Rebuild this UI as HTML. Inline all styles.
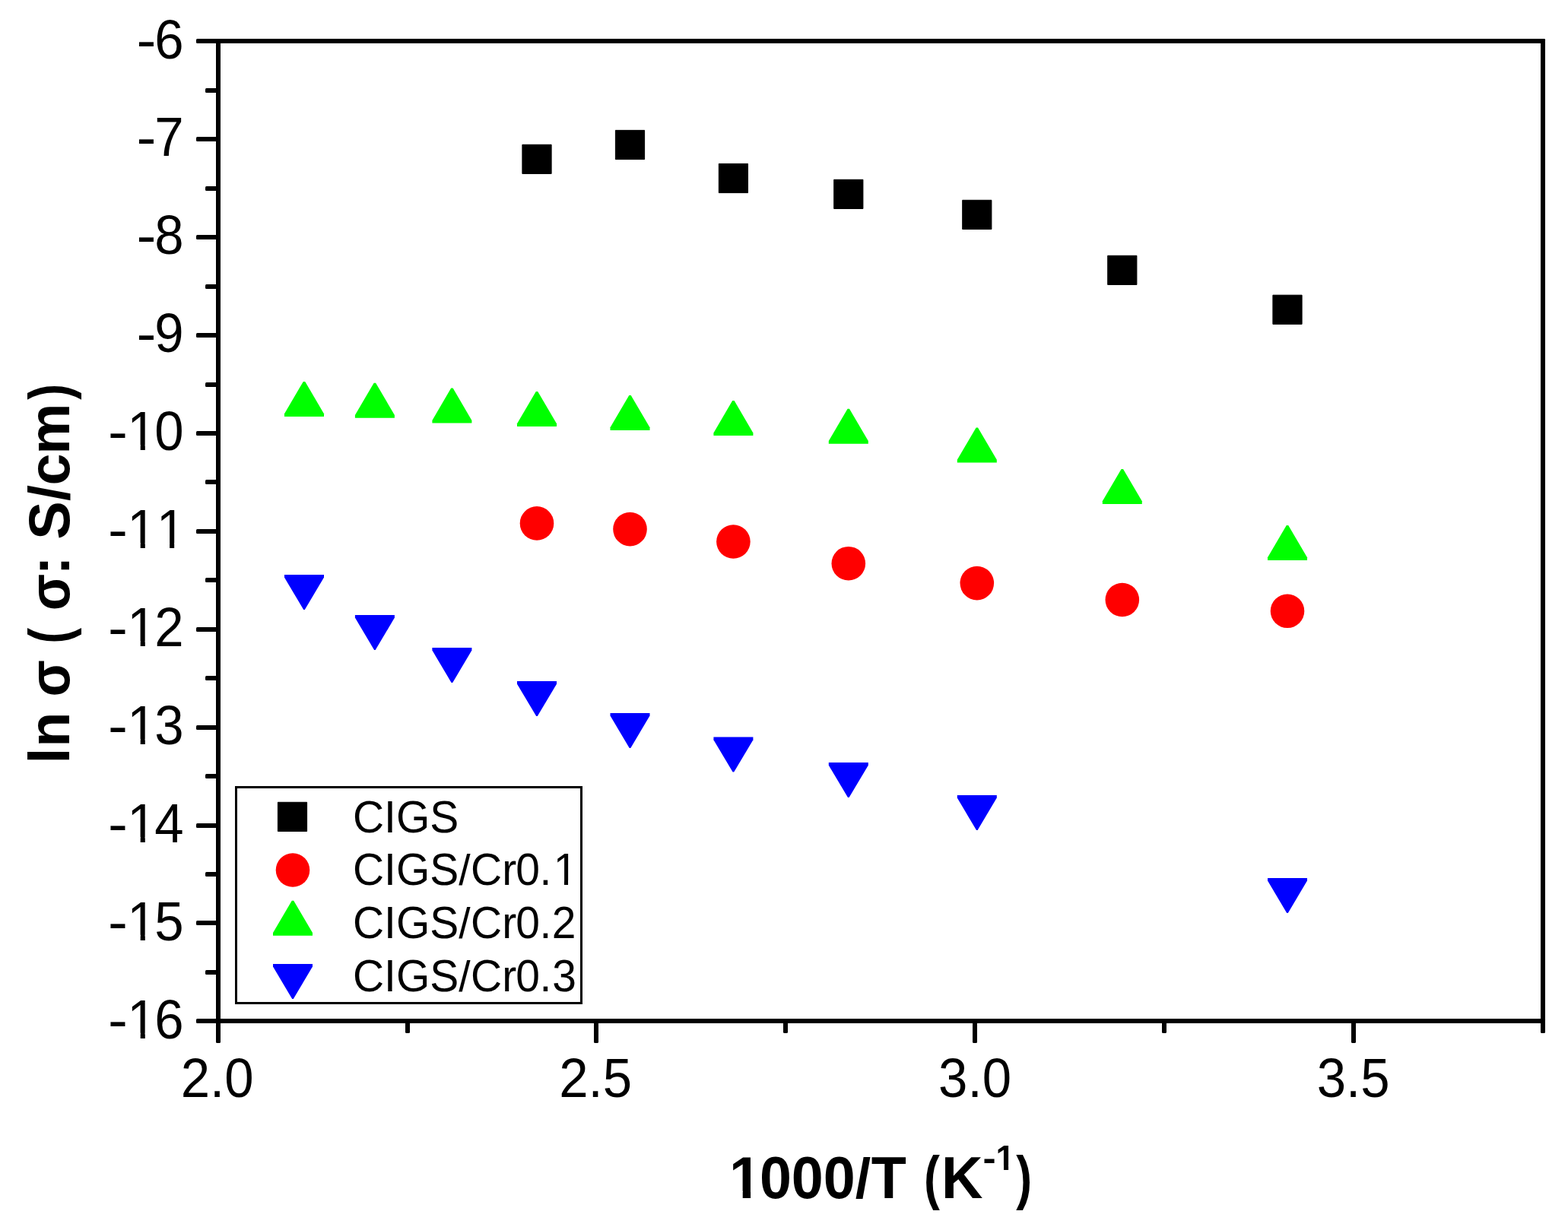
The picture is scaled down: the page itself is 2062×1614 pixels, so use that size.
<!DOCTYPE html>
<html><head><meta charset="utf-8"><title>ln σ vs 1000/T</title><style>
html,body{margin:0;padding:0;background:#fff;overflow:hidden}
svg{display:block}
text{font-family:"Liberation Sans",Arial,sans-serif;fill:#000}
.tl{font-size:69px}
.lg{font-size:57px}
.ti{font-size:75.5px;font-weight:bold}
</style></head><body>
<svg width="2062" height="1614" viewBox="0 0 2062 1614">
<defs>
<clipPath id="cy4"><path clip-rule="evenodd" d="M-3000 -3000H5000V3000H-3000Z M171.61 -6.45H184.70V3.00H171.61Z M190.80 -6.45H203.36V3.00H190.80Z"/></clipPath>
<clipPath id="cy5"><path clip-rule="evenodd" d="M-3000 -3000H5000V3000H-3000Z M171.61 -6.45H184.70V3.00H171.61Z M190.80 -6.45H203.36V3.00H190.80Z M209.98 -6.45H223.08V3.00H209.98Z M229.17 -6.45H241.73V3.00H229.17Z"/></clipPath>
<clipPath id="cy6"><path clip-rule="evenodd" d="M-3000 -3000H5000V3000H-3000Z M171.61 -6.45H184.70V3.00H171.61Z M190.80 -6.45H203.36V3.00H190.80Z"/></clipPath>
<clipPath id="cy7"><path clip-rule="evenodd" d="M-3000 -3000H5000V3000H-3000Z M171.61 -6.45H184.70V3.00H171.61Z M190.80 -6.45H203.36V3.00H190.80Z"/></clipPath>
<clipPath id="cy8"><path clip-rule="evenodd" d="M-3000 -3000H5000V3000H-3000Z M171.61 -6.45H184.70V3.00H171.61Z M190.80 -6.45H203.36V3.00H190.80Z"/></clipPath>
<clipPath id="cy9"><path clip-rule="evenodd" d="M-3000 -3000H5000V3000H-3000Z M171.61 -6.45H184.70V3.00H171.61Z M190.80 -6.45H203.36V3.00H190.80Z"/></clipPath>
<clipPath id="cy10"><path clip-rule="evenodd" d="M-3000 -3000H5000V3000H-3000Z M171.61 -6.45H184.70V3.00H171.61Z M190.80 -6.45H203.36V3.00H190.80Z"/></clipPath>
<clipPath id="cxt"><path clip-rule="evenodd" d="M-3000 -3000H5000V3000H-3000Z M962.86 -9.00H976.72V3.00H962.86Z M987.08 -9.00H999.99V3.00H987.08Z M1124.56 -58.71H1146.13V-51.94H1124.56Z"/></clipPath>
<clipPath id="cxs"><path clip-rule="evenodd" d="M-3000 -3000H5000V3000H-3000Z M1311.34 -5.87H1319.97V3.00H1311.34Z M1326.12 -5.87H1334.19V3.00H1326.12Z"/></clipPath>
<clipPath id="cl1"><path clip-rule="evenodd" d="M-3000 -3000H5000V3000H-3000Z M731.02 -5.56H742.01V3.00H731.02Z M747.05 -5.56H757.60V3.00H747.05Z M602.96 -45.30H619.40V-39.22H602.96Z"/></clipPath>
<clipPath id="cl2"><path clip-rule="evenodd" d="M-3000 -3000H5000V3000H-3000Z M602.96 -45.30H619.40V-39.22H602.96Z"/></clipPath>
<clipPath id="cl3"><path clip-rule="evenodd" d="M-3000 -3000H5000V3000H-3000Z M602.96 -45.30H619.40V-39.22H602.96Z"/></clipPath>
</defs>
<rect width="2062" height="1614" fill="#fff"/>
<g fill="#000">
<rect x="258" y="51" width="1774" height="6" rx="1.5"/>
<rect x="258" y="1340" width="1774" height="6" rx="1.5"/>
<rect x="284" y="51" width="6" height="1321" rx="1.5"/>
<rect x="2026" y="51" width="6" height="1308" rx="1.5"/>
<rect x="258" y="180" width="30" height="6" rx="1.5"/>
<rect x="258" y="309" width="30" height="6" rx="1.5"/>
<rect x="258" y="438" width="30" height="6" rx="1.5"/>
<rect x="258" y="567" width="30" height="6" rx="1.5"/>
<rect x="258" y="696" width="30" height="6" rx="1.5"/>
<rect x="258" y="825" width="30" height="6" rx="1.5"/>
<rect x="258" y="954" width="30" height="6" rx="1.5"/>
<rect x="258" y="1083" width="30" height="6" rx="1.5"/>
<rect x="258" y="1211" width="30" height="6" rx="1.5"/>
<rect x="270" y="116" width="18" height="6" rx="1.5"/>
<rect x="270" y="245" width="18" height="6" rx="1.5"/>
<rect x="270" y="374" width="18" height="6" rx="1.5"/>
<rect x="270" y="503" width="18" height="6" rx="1.5"/>
<rect x="270" y="631" width="18" height="6" rx="1.5"/>
<rect x="270" y="760" width="18" height="6" rx="1.5"/>
<rect x="270" y="889" width="18" height="6" rx="1.5"/>
<rect x="270" y="1018" width="18" height="6" rx="1.5"/>
<rect x="270" y="1147" width="18" height="6" rx="1.5"/>
<rect x="270" y="1276" width="18" height="6" rx="1.5"/>
<rect x="781" y="1342" width="6" height="30" rx="1.5"/>
<rect x="1279" y="1342" width="6" height="30" rx="1.5"/>
<rect x="1777" y="1342" width="6" height="30" rx="1.5"/>
<rect x="533" y="1342" width="6" height="17" rx="1.5"/>
<rect x="1030" y="1342" width="6" height="17" rx="1.5"/>
<rect x="1528" y="1342" width="6" height="17" rx="1.5"/>
</g>
<text class="tl" transform="translate(0 76.5) scale(1 1.045)"><tspan x="179.55" textLength="25.92" lengthAdjust="spacingAndGlyphs">-</tspan><tspan x="203.33">6</tspan></text>
<text class="tl" transform="translate(0 205.4) scale(1 1.045)"><tspan x="179.55" textLength="25.92" lengthAdjust="spacingAndGlyphs">-</tspan><tspan x="203.33">7</tspan></text>
<text class="tl" transform="translate(0 334.3) scale(1 1.045)"><tspan x="179.55" textLength="25.92" lengthAdjust="spacingAndGlyphs">-</tspan><tspan x="203.33">8</tspan></text>
<text class="tl" transform="translate(0 463.2) scale(1 1.045)"><tspan x="179.55" textLength="25.92" lengthAdjust="spacingAndGlyphs">-</tspan><tspan x="203.33">9</tspan></text>
<text class="tl" transform="translate(0 592.1) scale(1 1.045)" clip-path="url(#cy4)"><tspan x="141.97" textLength="25.92" lengthAdjust="spacingAndGlyphs">-</tspan><tspan x="167.35 203.33">10</tspan></text>
<text class="tl" transform="translate(0 721.0) scale(1 1.045)" clip-path="url(#cy5)"><tspan x="141.97" textLength="25.92" lengthAdjust="spacingAndGlyphs">-</tspan><tspan x="167.35 205.73">11</tspan></text>
<text class="tl" transform="translate(0 849.9) scale(1 1.045)" clip-path="url(#cy6)"><tspan x="141.97" textLength="25.92" lengthAdjust="spacingAndGlyphs">-</tspan><tspan x="167.35 203.33">12</tspan></text>
<text class="tl" transform="translate(0 978.8) scale(1 1.045)" clip-path="url(#cy7)"><tspan x="141.97" textLength="25.92" lengthAdjust="spacingAndGlyphs">-</tspan><tspan x="167.35 203.33">13</tspan></text>
<text class="tl" transform="translate(0 1107.7) scale(1 1.045)" clip-path="url(#cy8)"><tspan x="141.97" textLength="25.92" lengthAdjust="spacingAndGlyphs">-</tspan><tspan x="167.35 203.33">14</tspan></text>
<text class="tl" transform="translate(0 1236.6) scale(1 1.045)" clip-path="url(#cy9)"><tspan x="141.97" textLength="25.92" lengthAdjust="spacingAndGlyphs">-</tspan><tspan x="167.35 203.33">15</tspan></text>
<text class="tl" transform="translate(0 1365.5) scale(1 1.045)" clip-path="url(#cy10)"><tspan x="141.97" textLength="25.92" lengthAdjust="spacingAndGlyphs">-</tspan><tspan x="167.35 203.33">16</tspan></text>
<text class="tl" transform="translate(237.7 1442.8) scale(1 1.045)">2.0</text>
<text class="tl" transform="translate(735.2 1442.8) scale(1 1.045)">2.5</text>
<text class="tl" transform="translate(1234.1 1442.8) scale(1 1.045)">3.0</text>
<text class="tl" transform="translate(1731.7 1442.8) scale(1 1.045)">3.5</text>
<g transform="translate(0 1576) scale(1 1.0405)"><text class="ti" clip-path="url(#cxt)"><tspan x="959.10 998.89 1040.88 1082.87 1124.86 1145.83 1191.95">1000/T </tspan><tspan x="1214.94" textLength="20.87" lengthAdjust="spacingAndGlyphs">(</tspan><tspan x="1238.07">K</tspan></text><text class="ti" style="font-size:44.8px" transform="translate(0 -35.7)" clip-path="url(#cxs)"><tspan x="1292.50" textLength="17.16" lengthAdjust="spacingAndGlyphs">-</tspan><tspan x="1309.52">1</tspan></text><text class="ti"><tspan x="1336.15" textLength="20.87" lengthAdjust="spacingAndGlyphs">)</tspan></text></g>
<text class="ti" y="0" transform="translate(91.1 1000.0) rotate(-90)"><tspan x="-4.50 17.29 63.41">ln </tspan><tspan x="83.42" textLength="48.29" lengthAdjust="spacingAndGlyphs">σ</tspan><tspan x="131.71"> </tspan><tspan x="153.14" textLength="20.87" lengthAdjust="spacingAndGlyphs">(</tspan><tspan x="174.00"> </tspan><tspan x="196.72" textLength="48.29" lengthAdjust="spacingAndGlyphs">σ</tspan><tspan x="243.63 268.77 290.36 341.06 361.59 402.29">: S/cm</tspan><tspan x="474.30" textLength="20.87" lengthAdjust="spacingAndGlyphs">)</tspan></text>
<g>
<rect x="686.9" y="190.3" width="38.2" height="38.2" fill="#000" stroke="#000" stroke-width="1" stroke-linejoin="round"/>
<rect x="809.4" y="171.4" width="38.2" height="38.2" fill="#000" stroke="#000" stroke-width="1" stroke-linejoin="round"/>
<rect x="945.3" y="215.4" width="38.2" height="38.2" fill="#000" stroke="#000" stroke-width="1" stroke-linejoin="round"/>
<rect x="1096.7" y="236.3" width="38.2" height="38.2" fill="#000" stroke="#000" stroke-width="1" stroke-linejoin="round"/>
<rect x="1265.7" y="263.3" width="38.2" height="38.2" fill="#000" stroke="#000" stroke-width="1" stroke-linejoin="round"/>
<rect x="1456.7" y="336.3" width="38.2" height="38.2" fill="#000" stroke="#000" stroke-width="1" stroke-linejoin="round"/>
<rect x="1673.9" y="388.2" width="38.2" height="38.2" fill="#000" stroke="#000" stroke-width="1" stroke-linejoin="round"/>
<circle cx="706.0" cy="688.4" r="22.3" fill="#f00"/>
<circle cx="828.5" cy="696.1" r="22.3" fill="#f00"/>
<circle cx="964.4" cy="712.5" r="22.3" fill="#f00"/>
<circle cx="1115.8" cy="741.2" r="22.3" fill="#f00"/>
<circle cx="1284.8" cy="767.1" r="22.3" fill="#f00"/>
<circle cx="1475.8" cy="789.0" r="22.3" fill="#f00"/>
<circle cx="1693.0" cy="803.8" r="22.3" fill="#f00"/>
<path d="M398.8 501.9L401.2 501.9L426.0 544.2L426.0 547.9L374.0 547.9L374.0 544.2Z" fill="#0f0"/>
<path d="M491.7 503.7L494.1 503.7L518.9 546.0L518.9 549.7L466.9 549.7L466.9 546.0Z" fill="#0f0"/>
<path d="M593.2 510.6L595.6 510.6L620.4 552.9L620.4 556.6L568.4 556.6L568.4 552.9Z" fill="#0f0"/>
<path d="M704.8 514.9L707.2 514.9L732.0 557.2L732.0 560.9L680.0 560.9L680.0 557.2Z" fill="#0f0"/>
<path d="M827.3 519.9L829.7 519.9L854.5 562.2L854.5 565.9L802.5 565.9L802.5 562.2Z" fill="#0f0"/>
<path d="M963.2 527.1L965.6 527.1L990.4 569.4L990.4 573.1L938.4 573.1L938.4 569.4Z" fill="#0f0"/>
<path d="M1114.6 537.7L1117.0 537.7L1141.8 580.0L1141.8 583.7L1089.8 583.7L1089.8 580.0Z" fill="#0f0"/>
<path d="M1283.6 562.5L1286.0 562.5L1310.8 604.8L1310.8 608.5L1258.8 608.5L1258.8 604.8Z" fill="#0f0"/>
<path d="M1474.6 616.9L1477.0 616.9L1501.8 659.2L1501.8 662.9L1449.8 662.9L1449.8 659.2Z" fill="#0f0"/>
<path d="M1691.8 690.9L1694.2 690.9L1719.0 733.2L1719.0 736.9L1667.0 736.9L1667.0 733.2Z" fill="#0f0"/>
<path d="M374.0 755.9L426.0 755.9L426.0 759.6L400.8 801.9L399.2 801.9L374.0 759.6Z" fill="#00f"/>
<path d="M466.9 808.9L518.9 808.9L518.9 812.6L493.7 854.9L492.1 854.9L466.9 812.6Z" fill="#00f"/>
<path d="M568.4 851.9L620.4 851.9L620.4 855.6L595.2 897.9L593.6 897.9L568.4 855.6Z" fill="#00f"/>
<path d="M680.0 896.0L732.0 896.0L732.0 899.7L706.8 942.0L705.2 942.0L680.0 899.7Z" fill="#00f"/>
<path d="M802.5 937.9L854.5 937.9L854.5 941.6L829.3 983.9L827.7 983.9L802.5 941.6Z" fill="#00f"/>
<path d="M938.4 969.6L990.4 969.6L990.4 973.3L965.2 1015.6L963.6 1015.6L938.4 973.3Z" fill="#00f"/>
<path d="M1089.8 1003.0L1141.8 1003.0L1141.8 1006.7L1116.6 1049.0L1115.0 1049.0L1089.8 1006.7Z" fill="#00f"/>
<path d="M1258.8 1045.9L1310.8 1045.9L1310.8 1049.6L1285.6 1091.9L1284.0 1091.9L1258.8 1049.6Z" fill="#00f"/>
<path d="M1667.0 1154.9L1719.0 1154.9L1719.0 1158.6L1693.8 1200.9L1692.2 1200.9L1667.0 1158.6Z" fill="#00f"/>
</g>
<rect x="310.5" y="1035.5" width="454" height="284" fill="none" stroke="#000" stroke-width="3"/>
<rect x="365.4" y="1055.3" width="38.2" height="38.2" fill="#000" stroke="#000" stroke-width="1" stroke-linejoin="round"/>
<circle cx="385" cy="1144.5" r="22.3" fill="#f00"/>
<path d="M383.8 1184.8L386.2 1184.8L411.0 1227.1L411.0 1230.8L359.0 1230.8L359.0 1227.1Z" fill="#0f0"/>
<path d="M359.0 1267.9L411.0 1267.9L411.0 1271.6L385.8 1313.9L384.2 1313.9L359.0 1271.6Z" fill="#00f"/>
<text class="lg" transform="translate(0 1095.0) scale(1 1.045)"><tspan x="463.91 505.07 520.91 565.24">CIGS</tspan></text>
<text class="lg" transform="translate(0 1164.0) scale(1 1.045)" clip-path="url(#cl1)"><tspan x="463.91 505.07 520.91 565.24 603.26 619.10 660.26 678.14 709.44 727.68">CIGS/Cr0.1</tspan></text>
<text class="lg" transform="translate(0 1234.0) scale(1 1.045)" clip-path="url(#cl2)"><tspan x="463.91 505.07 520.91 565.24 603.26 619.10 660.26 678.14 709.44 725.78">CIGS/Cr0.2</tspan></text>
<text class="lg" transform="translate(0 1304.0) scale(1 1.045)" clip-path="url(#cl3)"><tspan x="463.91 505.07 520.91 565.24 603.26 619.10 660.26 678.14 709.44 726.28">CIGS/Cr0.3</tspan></text>
</svg>
</body></html>
